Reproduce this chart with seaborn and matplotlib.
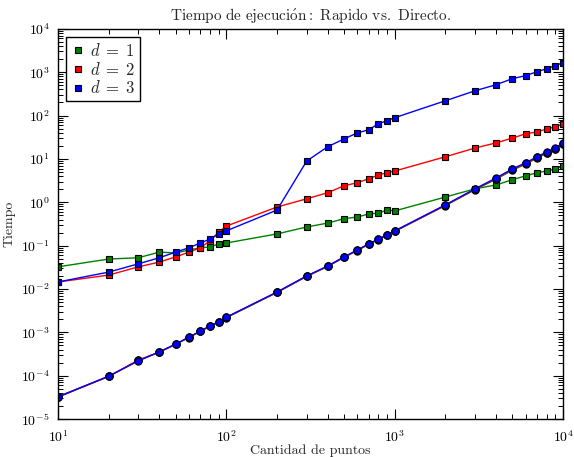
import matplotlib
matplotlib.use("Agg")
import matplotlib.pyplot as plt
from matplotlib.lines import Line2D
from matplotlib.ticker import LogLocator
import seaborn as sns
import pandas as pd

n_puntos = [10, 20, 30, 40, 50, 60, 70, 80, 90, 100,
            200, 300, 400, 500, 600, 700, 800, 900, 1000,
            2000, 3000, 4000, 5000, 6000, 7000, 8000, 9000, 10000]

rapido_d1 = [0.0324, 0.049, 0.0525, 0.0708, 0.0676, 0.079, 0.089, 0.093, 0.110, 0.115,
             0.186, 0.269, 0.331, 0.417, 0.457, 0.537, 0.562, 0.661, 0.631,
             1.32, 2.04, 2.51, 3.31, 4.07, 4.79, 5.25, 5.89, 6.92]
rapido_d2 = [0.0145, 0.0209, 0.0324, 0.0417, 0.0550, 0.0708, 0.0891, 0.129, 0.204, 0.282,
             0.776, 1.20, 1.66, 2.40, 2.82, 3.47, 4.27, 4.79, 5.25,
             11.2, 17.8, 23.4, 30.2, 38.0, 41.7, 49.0, 55.0, 64.6]
rapido_d3 = [0.0145, 0.0245, 0.0380, 0.0525, 0.0708, 0.0891, 0.115, 0.141, 0.186, 0.219,
             0.661, 8.91, 19.1, 28.8, 39.8, 46.8, 64.6, 75.9, 89.1,
             219, 372, 513, 708, 832, 1023, 1202, 1413, 1660]

directo_d1 = [3.3e-5, 9.6e-5, 2.25e-4, 3.5e-4, 5.3e-4, 7.6e-4, 1.05e-3, 1.38e-3, 1.70e-3, 2.18e-3,
              8.3e-3, 0.0195, 0.0330, 0.0535, 0.0770, 0.107, 0.137, 0.172, 0.212,
              0.84, 1.95, 3.40, 5.5, 7.6, 10.4, 13.5, 16.6, 21.8]
directo_d2 = [3.2e-5, 9.6e-5, 2.3e-4, 3.5e-4, 5.3e-4, 7.7e-4, 1.06e-3, 1.39e-3, 1.72e-3, 2.20e-3,
              8.4e-3, 0.0197, 0.0334, 0.0542, 0.0780, 0.108, 0.139, 0.175, 0.215,
              0.85, 1.99, 3.52, 5.7, 7.9, 10.8, 14.0, 17.2, 22.6]
directo_d3 = [3.24e-5, 9.77e-5, 2.19e-4, 3.55e-4, 5.37e-4, 7.76e-4, 1.07e-3, 1.41e-3, 1.74e-3, 2.24e-3,
              8.51e-3, 0.0200, 0.0339, 0.0550, 0.0794, 0.110, 0.141, 0.178, 0.219,
              0.871, 2.04, 3.63, 5.89, 8.13, 11.2, 14.5, 17.8, 23.4]

etiquetas = [r"$d\;=\;1$", r"$d\;=\;2$", r"$d\;=\;3$"]
colores = ["#008000", "#ff0000", "#0000ff"]

sns.set_theme(style="ticks", rc={
    "xtick.direction": "in", "ytick.direction": "in",
    "xtick.top": True, "ytick.right": True,
    "xtick.major.size": 7, "ytick.major.size": 7,
    "xtick.minor.size": 3.5, "ytick.minor.size": 3.5,
    "xtick.major.width": 0.8, "ytick.major.width": 0.8,
    "xtick.minor.width": 0.7, "ytick.minor.width": 0.7,
    "axes.linewidth": 1.0, "axes.edgecolor": "black",
    "xtick.color": "black", "ytick.color": "black",
    "xtick.major.pad": 7, "ytick.major.pad": 6,
})
plt.rcParams["font.family"] = ["cmr10", "DejaVu Serif"]
plt.rcParams["mathtext.fontset"] = "cm"
plt.rcParams["axes.formatter.use_mathtext"] = True

fig = plt.figure(figsize=(5.74, 4.57), dpi=100)
ax = fig.add_axes([0.101, 0.083, 0.880, 0.854])

for vals, c in zip([rapido_d1, rapido_d2, rapido_d3], colores):
    df = pd.DataFrame({"n": n_puntos, "t": vals})
    sns.lineplot(data=df, x="n", y="t", ax=ax, color=c, marker="s", markersize=4.8,
                 markeredgecolor="black", markeredgewidth=0.8, linewidth=1.0,
                 estimator=None, legend=False)
for vals, c in zip([directo_d1, directo_d2, directo_d3], colores):
    df = pd.DataFrame({"n": n_puntos, "t": vals})
    sns.lineplot(data=df, x="n", y="t", ax=ax, color=c, marker="o", markersize=5.2,
                 markeredgecolor="black", markeredgewidth=0.8, linewidth=1.0,
                 estimator=None, legend=False)

ax.set_xscale("log")
ax.set_yscale("log")
ax.set_xlim(10, 1e4)
ax.set_ylim(1e-5, 1e4)
ax.yaxis.set_major_locator(LogLocator(base=10, numticks=20))
ax.yaxis.set_minor_locator(LogLocator(base=10, subs=range(2, 10), numticks=20))
ax.tick_params(which="both", labelsize=10)

ax.set_title(r"$\mathrm{Tiempo\ de\ ejecuci\acute{o}n{:}\ Rapido\ vs.\ Directo.}$",
             fontsize=11, pad=6)
ax.set_xlabel("Cantidad de puntos", fontsize=10, labelpad=0)
ax.set_ylabel("Tiempo", fontsize=10, labelpad=4)

handles = [Line2D([], [], color=c, marker="s", linestyle="none", markersize=4.8,
                  markeredgecolor="black", markeredgewidth=0.8) for c in colores]
leg = ax.legend(handles, etiquetas, loc="upper left", fontsize=12, frameon=True,
                fancybox=False, handlelength=0.8, handletextpad=0.3,
                borderpad=0.3, labelspacing=0.1, borderaxespad=0.5)
leg.get_frame().set_edgecolor("black")
leg.get_frame().set_linewidth(1.0)
leg.get_frame().set_alpha(1.0)

fig.savefig("out.png", dpi=100)
